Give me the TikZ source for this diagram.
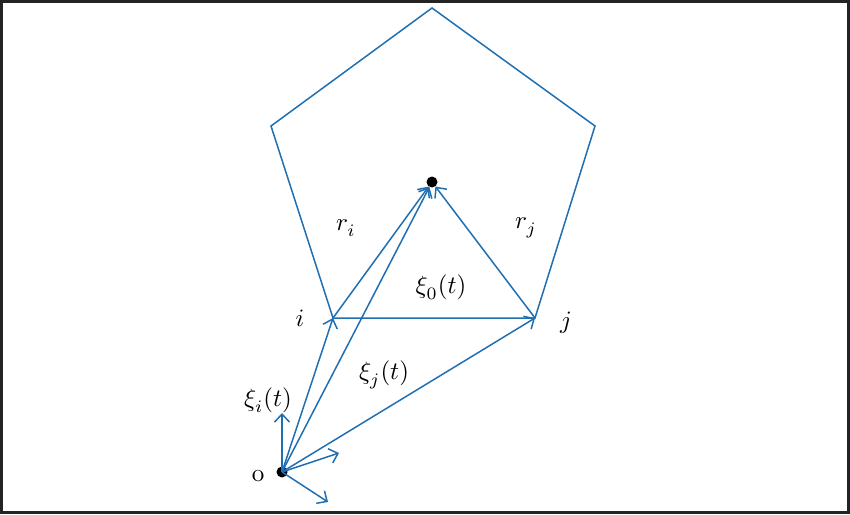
\documentclass[tikz,border=0pt]{standalone}
\usepackage{graphicx}
\usetikzlibrary{arrows.meta}
\definecolor{lblue}{RGB}{31,111,178}
\definecolor{frame}{RGB}{35,35,35}
\newcommand{\biglbl}[1]{\scalebox{2.5}{#1}}
\begin{document}
\begin{tikzpicture}[x=1pt,y=-1pt,
  edge/.style={draw=lblue,line width=1.5pt},
  vec/.style={edge,-{Straight Barb[length=8pt,width=15pt,line width=1.5pt]}},
  lab/.style={inner sep=0pt},
  pt/.style={circle,fill=black,inner sep=0pt,minimum size=11pt}]
\useasboundingbox (0,0) rectangle (850,514);
\draw[frame,line width=3pt] (1.5,1.5) rectangle (848.5,512.5);
% pentagon
\coordinate (T) at (432,8);
\coordinate (UR) at (595,126);
\coordinate (J) at (535,318);
\coordinate (I) at (333,318);
\coordinate (UL) at (271,126);
\draw[edge,line join=miter] (T) -- (UR) -- (J) -- (I) -- (UL) -- cycle;
\node[pt] (C) at (432,182) {};
\node[pt] (O) at (282,472) {};
% small axis arrows
\coordinate (ax1) at (282,413);
\coordinate (ax2) at (339,453);
\coordinate (ax3) at (328,502);
\draw[vec] (O.center) -- (ax1);
\draw[vec] (O.center) -- (ax2);
\draw[vec] (O.center) -- (ax3);
% vectors
\draw[vec] (O.center) -- (I);
\draw[vec] (O.center) -- (J);
\draw[vec] (O.center) -- (C);
\draw[vec] (I) -- (C);
\draw[vec] (J) -- (C);
% labels
\node[lab] (li) at (300,318) {\biglbl{$i$}};
\node[lab] (lj) at (566,323) {\biglbl{$j$}};
\node[lab] (lri) at (346,228) {\biglbl{$r^{}_{i}$}};
\node[lab] (lrj) at (526,228) {\biglbl{$r^{}_{j}$}};
\node[lab] (lx0) at (441,287) {\biglbl{$\xi^{}_{0}(t)$}};
\node[lab] (lxi) at (268,400) {\biglbl{$\xi^{}_{i}(t)$}};
\node[lab] (lxj) at (384,375) {\biglbl{$\xi^{}_{j}(t)$}};
\node[lab] (lo) at (258,476) {\biglbl{o}};
\end{tikzpicture}
\end{document}
